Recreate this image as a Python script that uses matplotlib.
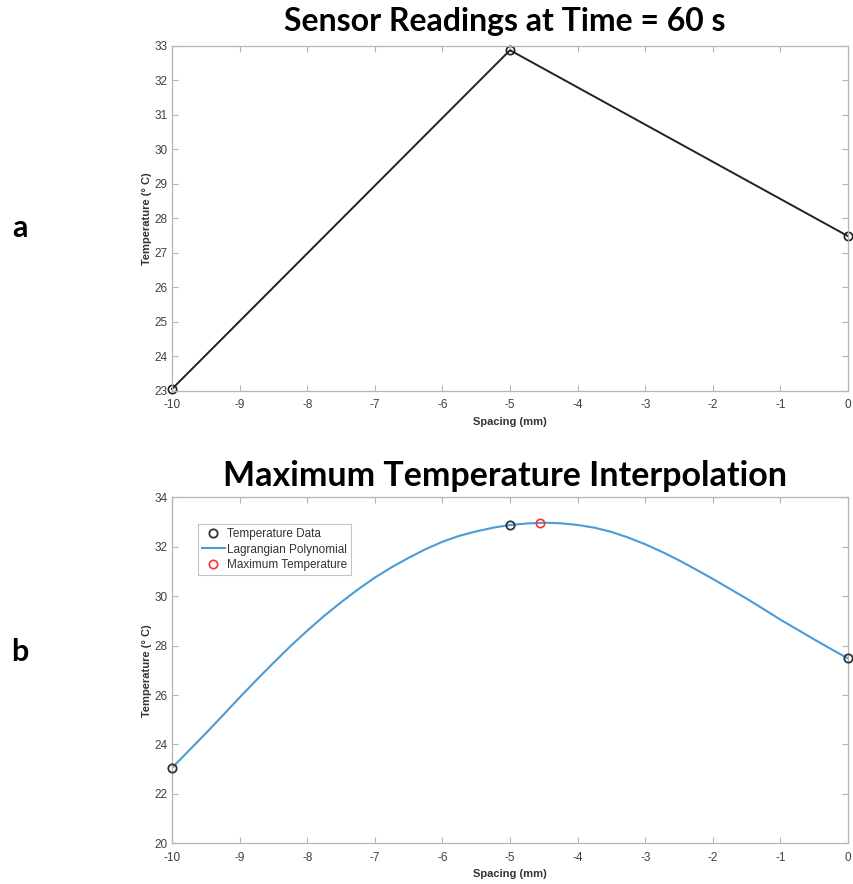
import matplotlib
matplotlib.use("Agg")
import matplotlib.pyplot as plt

# sensor readings (spacing in mm, temperature in deg C)
spacing = [-10, -5, 0]
temps = [23.05, 32.87, 27.48]

# lagrangian polynomial curve
poly_x = [-10, -9.75, -9.5, -9.25, -9.0, -8.75, -8.5, -8.25, -8.0, -7.75, -7.5,
          -7.25, -7.0, -6.75, -6.5, -6.25, -6.0, -5.75, -5.5, -5.25, -5.0,
          -4.75, -4.5, -4.25, -4.0, -3.75, -3.5, -3.25, -3.0, -2.75, -2.5,
          -2.25, -2.0, -1.75, -1.5, -1.25, -1.0, -0.75, -0.5, -0.25, 0]
poly_y = [23.05, 23.75, 24.45, 25.17, 25.9, 26.61, 27.3, 27.97, 28.6, 29.2, 29.75,
          30.27, 30.75, 31.17, 31.55, 31.9, 32.2, 32.44, 32.62, 32.77, 32.88,
          32.94, 32.97, 32.95, 32.88, 32.77, 32.6, 32.37, 32.1, 31.79, 31.45,
          31.08, 30.7, 30.3, 29.9, 29.48, 29.05, 28.65, 28.25, 27.86, 27.48]

max_x = [-4.56]
max_y = [32.97]

x_ticks = list(range(-10, 1))
top_yticks = list(range(23, 34))
bot_yticks = list(range(20, 35, 2))

plt.rcParams['font.family'] = ['Liberation Sans', 'DejaVu Sans']
plt.rcParams['axes.unicode_minus'] = False

fig = plt.figure(figsize=(8.54, 8.84), dpi=100)
W, H = 854, 884


def make_axes(left, top, right, bottom):
    return fig.add_axes([left / W, 1 - bottom / H, (right - left) / W, (bottom - top) / H])


def style(ax, yticks, ylim):
    ax.set_xlim(-10, 0)
    ax.set_ylim(*ylim)
    ax.set_xticks(x_ticks)
    ax.set_yticks(yticks)
    for s in ax.spines.values():
        s.set_color('#b4b4b4')
        s.set_linewidth(0.9)
    ax.tick_params(direction='in', length=4.5, width=0.8, color='#b4b4b4',
                   top=True, right=True, labelsize=8.5, labelcolor='#404040')
    ax.tick_params(axis='x', pad=6)
    ax.tick_params(axis='y', pad=3)
    ax.set_xlabel('Spacing (mm)', fontsize=8, fontweight='bold', color='#333333', labelpad=4)
    ax.set_ylabel('Temperature (° C)', fontsize=8, fontweight='bold', color='#333333', labelpad=2)


# a) raw sensor readings
ax1 = make_axes(172, 45.7, 848, 390.7)
ax1.plot(spacing, temps, '-o', color='#222222', lw=1.4, ms=6, mfc='none', mew=1.2, clip_on=False)
style(ax1, top_yticks, (23, 33))

# b) interpolation
ax2 = make_axes(172, 497.3, 848, 843.3)
ax2.plot(spacing, temps, 'o', color='#333333', ms=6, mfc='none', mew=1.3, clip_on=False,
         label='Temperature Data', zorder=3)
ax2.plot(poly_x, poly_y, '-', color='#4a9bd6', lw=1.5, label='Lagrangian Polynomial')
ax2.plot(max_x, max_y, 'o', color='#ff3030', ms=6, mfc='none', mew=1.2,
         label='Maximum Temperature', zorder=4)
style(ax2, bot_yticks, (20, 34))
leg = ax2.legend(loc='upper left', bbox_to_anchor=(0.0385, 0.923), borderaxespad=0,
                 fontsize=8.5, frameon=True, fancybox=False, edgecolor='#b4b4b4',
                 handlelength=1.9, handletextpad=0.2, labelspacing=0.3, borderpad=0.35)
leg.get_frame().set_linewidth(0.8)
for t in leg.get_texts():
    t.set_color('#333333')

# titles and panel letters
fig.text(505 / W, 1 - 22 / H, 'Sensor Readings at Time = 60 s', ha='center', va='center',
         fontsize=23, fontweight='bold', family=['Lato', 'DejaVu Sans'])
fig.text(505 / W, 1 - 476 / H, 'Maximum Temperature Interpolation', ha='center', va='center',
         fontsize=24.5, fontweight='bold', family=['Lato', 'DejaVu Sans'])
fig.text(20 / W, 1 - 228 / H, 'a', ha='center', va='center', fontsize=22, fontweight='bold',
         family=['Lato', 'DejaVu Sans'])
fig.text(20 / W, 1 - 652 / H, 'b', ha='center', va='center', fontsize=22, fontweight='bold',
         family=['Lato', 'DejaVu Sans'])

fig.savefig('out.png', dpi=100)
